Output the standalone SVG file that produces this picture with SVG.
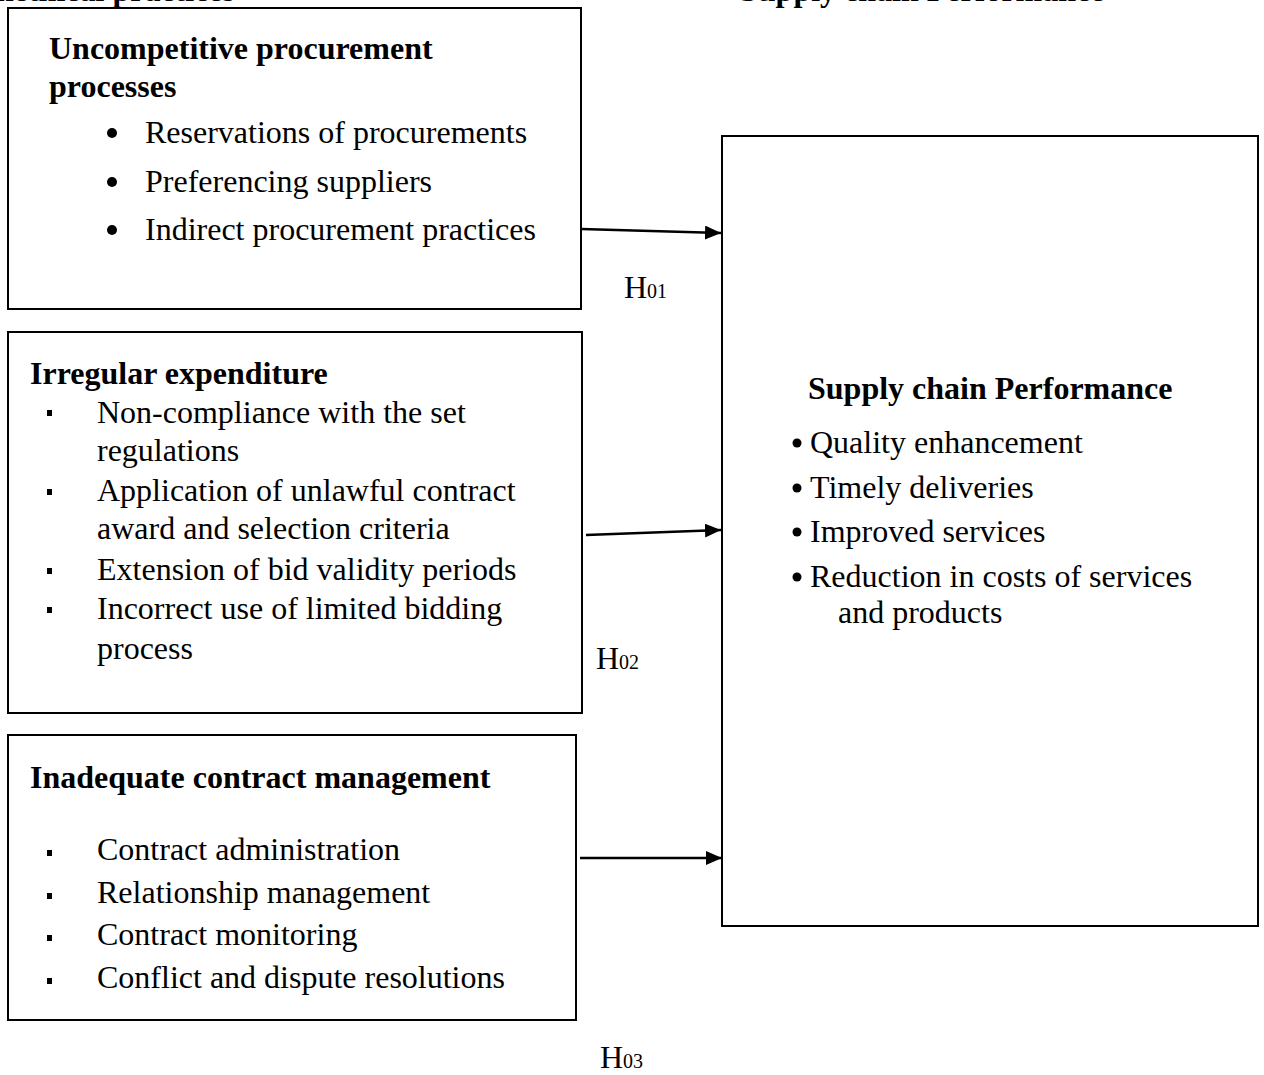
<svg xmlns="http://www.w3.org/2000/svg" width="1264" height="1075" viewBox="0 0 1264 1075">
<style>
.box{fill:#fff;stroke:#000;stroke-width:2}
text{font-family:"Liberation Serif","Times New Roman",serif;font-size:32px;fill:#000}
.b{font-weight:bold}
.sub{font-size:20px}
.conn{stroke:#000;stroke-width:2.5;fill:none}
</style>
<defs>
<marker id="ah2" viewBox="0 0 16 14" refX="16" refY="7" markerWidth="16" markerHeight="14" orient="auto" markerUnits="userSpaceOnUse"><path d="M0,0 L16,7 L0,14 z" fill="#000"/></marker>
</defs>
<text class="b" x="235" y="1" text-anchor="end">Unethical practices</text>
<text class="b" x="740" y="1">Supply chain Performance</text>
<g id="node-uncompetitive">
<rect class="box" x="8" y="8" width="573" height="301"/>
<text class="b" x="49" y="59">Uncompetitive procurement</text>
<text class="b" x="49" y="97">processes</text>
<circle cx="112" cy="133" r="5"/><text x="145" y="143">Reservations of procurements</text>
<circle cx="112" cy="182" r="5"/><text x="145" y="192">Preferencing suppliers</text>
<circle cx="112" cy="230" r="5"/><text x="145" y="240">Indirect procurement practices</text>
</g>
<g id="node-irregular">
<rect class="box" x="8" y="332" width="574" height="381"/>
<text class="b" x="30" y="384">Irregular expenditure</text>
<rect x="47" y="410" width="5" height="6"/><text x="97" y="423">Non-compliance with the set</text>
<text x="97" y="461">regulations</text>
<rect x="47" y="489" width="5" height="6"/><text x="97" y="501">Application of unlawful contract</text>
<text x="97" y="539">award and selection criteria</text>
<rect x="47" y="568" width="5" height="6"/><text x="97" y="580">Extension of bid validity periods</text>
<rect x="47" y="607" width="5" height="6"/><text x="97" y="619">Incorrect use of limited bidding</text>
<text x="97" y="659">process</text>
</g>
<g id="node-inadequate">
<rect class="box" x="8" y="735" width="568" height="285"/>
<text class="b" x="30" y="788">Inadequate contract management</text>
<rect x="47" y="850" width="5" height="6"/><text x="97" y="860">Contract administration</text>
<rect x="47" y="893" width="5" height="6"/><text x="97" y="903">Relationship management</text>
<rect x="47" y="935" width="5" height="6"/><text x="97" y="945">Contract monitoring</text>
<rect x="47" y="978" width="5" height="6"/><text x="97" y="988">Conflict and dispute resolutions</text>
</g>
<g id="node-performance">
<rect class="box" x="722" y="136" width="536" height="790"/>
<text class="b" x="808" y="399">Supply chain Performance</text>
<circle cx="797" cy="443" r="4.5"/><text x="810" y="453">Quality enhancement</text>
<circle cx="797" cy="488" r="4.5"/><text x="810" y="498">Timely deliveries</text>
<circle cx="797" cy="532" r="4.5"/><text x="810" y="542">Improved services</text>
<circle cx="797" cy="577" r="4.5"/><text x="810" y="587">Reduction in costs of services</text>
<text x="838" y="623">and products</text>
</g>
<g id="connectors">
<line class="conn" x1="581" y1="229" x2="721" y2="233" marker-end="url(#ah2)"/>
<line class="conn" x1="586" y1="535" x2="721" y2="530" marker-end="url(#ah2)"/>
<line class="conn" x1="580" y1="858" x2="722" y2="858" marker-end="url(#ah2)"/>
</g>
<text x="624" y="298">H<tspan class="sub">01</tspan></text>
<text x="596" y="669">H<tspan class="sub">02</tspan></text>
<text x="600" y="1068">H<tspan class="sub">03</tspan></text>
</svg>
